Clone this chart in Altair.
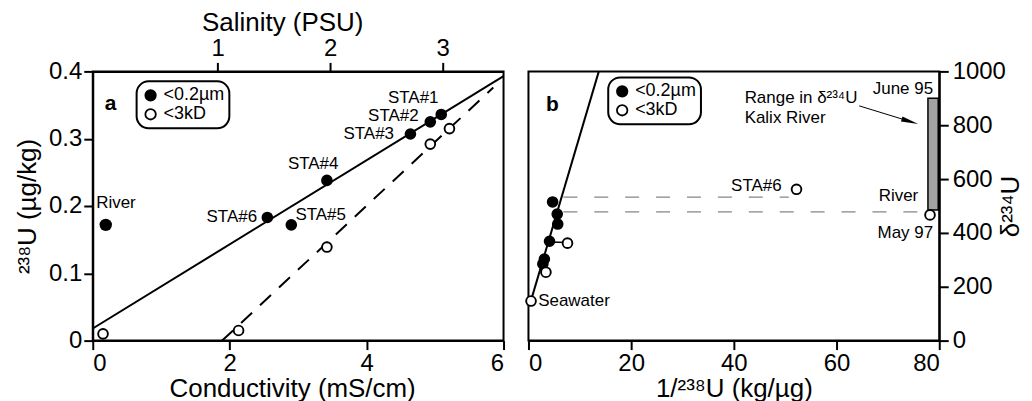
import altair as alt
import pandas as pd

FONT = "Liberation Sans"
KINDS = ["<0.2µm", "<3kD"]

# ---------------- Panel a : 238U vs conductivity ----------------
a_filled_cond = [2.55, 2.90, 3.42, 4.64, 4.93, 5.09]
a_filled_u = [0.183, 0.172, 0.238, 0.307, 0.325, 0.336]
a_open_cond = [0.15, 2.13, 3.42, 4.93, 5.21]
a_open_u = [0.010, 0.015, 0.139, 0.292, 0.315]
a_river_cond = [0.19]
a_river_u = [0.172]
a_solid_cond = [0.0, 6.0]
a_solid_u = [0.018, 0.393]
a_dash_cond = [1.89, 5.85]
a_dash_u = [0.0, 0.376]
salinity_ticks = [1, 2, 3]

a_left_text = ["River", "STA#5"]
a_left_cond = [0.05, 2.96]
a_left_u = [0.204, 0.187]
a_right_text = ["STA#6", "STA#3", "STA#2", "STA#1"]
a_right_cond = [2.40, 4.40, 4.76, 5.05]
a_right_u = [0.183, 0.307, 0.333, 0.361]
a_center_text = ["STA#4"]
a_center_cond = [3.22]
a_center_u = [0.262]

# ---------------- Panel b : d234U vs 1/238U ----------------
b_filled_x = [4.7, 5.6, 5.7, 4.1, 3.1, 2.8]
b_filled_y = [515, 470, 433, 369, 303, 285]
b_open_x = [0.5, 3.4, 7.6, 52.2, 78.2]
b_open_y = [147, 254, 362, 562, 467]
b_solid_x = [0.2, 13.7]
b_solid_y = [130, 1000]
b_tie_x = [4.1, 7.6]
b_tie_y = [366, 364]
b_dash_id = ["sta6", "sta6", "river", "river"]
b_dash_x = [6.8, 50.7, 6.8, 77.0]
b_dash_y = [533, 533, 478, 478]
b_range_x = [77.8]
b_range_x2 = [79.8]
b_range_y = [485]
b_range_y2 = [900]
b_arrow_x = [64.4, 74.3]
b_arrow_y = [872, 814]

b_left_text = ["Seawater", "Range in δ²³⁴U", "Kalix River"]
b_left_x = [1.9, 42.1, 42.1]
b_left_y = [146, 901, 828]
b_right_text = ["STA#6", "River", "May 97", "June 95"]
b_right_x = [49.3, 75.9, 78.8, 78.8]
b_right_y = [573, 536, 398, 934]


def df(**cols):
    return pd.DataFrame(cols)


def fill_enc(lx, ly):
    return alt.Fill(
        "kind:N",
        scale=alt.Scale(domain=KINDS, range=["black", "white"]),
        legend=alt.Legend(title=None, orient="none", legendX=lx, legendY=ly),
    )


# ---- panel a encodings
ax = alt.X(
    "x:Q",
    scale=alt.Scale(domain=[0, 6], nice=False),
    axis=alt.Axis(values=[0, 2, 4, 6], format="d", title="Conductivity (mS/cm)",
                  titlePadding=0, titleX=200),
)
ay = alt.Y(
    "y:Q",
    scale=alt.Scale(domain=[0, 0.4], nice=False),
    axis=alt.Axis(values=[0, 0.1, 0.2, 0.3, 0.4],
                  labelExpr="datum.value == 0 ? '0' : format(datum.value, '.1f')",
                  title="²³⁸U (µg/kg)", titlePadding=8),
)

a_pts = pd.concat([
    df(x=a_filled_cond, y=a_filled_u, kind=[KINDS[0]] * len(a_filled_cond)),
    df(x=a_open_cond, y=a_open_u, kind=[KINDS[1]] * len(a_open_cond)),
])

a_solid = alt.Chart(df(x=a_solid_cond, y=a_solid_u)).mark_line(
    color="black", strokeWidth=2).encode(x=ax, y=ay)
a_dash = alt.Chart(df(x=a_dash_cond, y=a_dash_u)).mark_line(
    color="black", strokeWidth=2, strokeDash=[15, 11]).encode(x=ax, y=ay)
a_points = alt.Chart(a_pts).mark_circle(
    size=95, opacity=1, stroke="black", strokeWidth=1.9).encode(
    x=ax, y=ay, fill=fill_enc(44, 10))
a_river = alt.Chart(df(x=a_river_cond, y=a_river_u)).mark_circle(
    size=155, opacity=1, color="black").encode(x=ax, y=ay)


def texts(xs, ys, ts, align, size=17, weight="normal"):
    return alt.Chart(df(x=xs, y=ys, t=ts)).mark_text(
        font=FONT, fontSize=size, fontWeight=weight, align=align,
        baseline="middle", color="black")


a_tl = texts(a_left_cond, a_left_u, a_left_text, "left").encode(x=ax, y=ay, text="t:N")
a_tr = texts(a_right_cond, a_right_u, a_right_text, "right").encode(x=ax, y=ay, text="t:N")
a_tc = texts(a_center_cond, a_center_u, a_center_text, "center").encode(x=ax, y=ay, text="t:N")
a_letter = texts([0.26], [0.352], ["a"], "center", 21, "bold").encode(x=ax, y=ay, text="t:N")

a_inner = alt.layer(a_solid, a_dash, a_points, a_river, a_tl, a_tr, a_tc, a_letter)

a_sal = alt.Chart(df(s=salinity_ticks)).mark_point(opacity=0).encode(
    x=alt.X("s:Q", scale=alt.Scale(domain=[-0.11, 3.54], nice=False),
            axis=alt.Axis(orient="top", values=salinity_ticks, format="d",
                          title="Salinity (PSU)", titlePadding=1, titleX=190)))

panel_a = alt.layer(a_inner, a_sal).resolve_scale(x="independent").properties(
    width=412, height=270)

# ---- panel b encodings
bx = alt.X(
    "x:Q",
    scale=alt.Scale(domain=[0, 80], nice=False),
    axis=alt.Axis(values=[0, 20, 40, 60, 80], format="d", title="1/²³⁸U  (kg/µg)",
                  titlePadding=0),
)
by = alt.Y(
    "y:Q",
    scale=alt.Scale(domain=[0, 1000], nice=False),
    axis=alt.Axis(orient="right", values=[0, 200, 400, 600, 800, 1000], format="d",
                  title="δ²³⁴U", titleAngle=270, titleBaseline="top", titleX=58,
                  labelPadding=4),
)

b_pts = pd.concat([
    df(x=b_filled_x, y=b_filled_y, kind=[KINDS[0]] * len(b_filled_x)),
    df(x=b_open_x, y=b_open_y, kind=[KINDS[1]] * len(b_open_x)),
])

b_bar = alt.Chart(df(x=b_range_x, x2=b_range_x2, y=b_range_y, y2=b_range_y2)).mark_rect(
    fill="#a3a3a3", stroke="black", strokeWidth=1.5).encode(
    x=bx, x2="x2:Q", y=by, y2="y2:Q")
b_dash = alt.Chart(df(x=b_dash_x, y=b_dash_y, id=b_dash_id)).mark_line(
    color="#666666", strokeWidth=1, strokeDash=[14, 17]).encode(x=bx, y=by, detail="id:N")
b_solid = alt.Chart(df(x=b_solid_x, y=b_solid_y)).mark_line(
    color="black", strokeWidth=2).encode(x=bx, y=by)
b_tie = alt.Chart(df(x=b_tie_x, y=b_tie_y)).mark_line(
    color="black", strokeWidth=1.5).encode(x=bx, y=by)
b_points = alt.Chart(b_pts).mark_circle(
    size=95, opacity=1, stroke="black", strokeWidth=1.9).encode(
    x=bx, y=by, fill=fill_enc(80, 6))
b_arrow_line = alt.Chart(df(x=b_arrow_x, y=b_arrow_y)).mark_line(
    color="black", strokeWidth=1).encode(x=bx, y=by)
b_arrow_head = alt.Chart(df(x=b_arrow_x[1:], y=b_arrow_y[1:])).mark_point(
    shape="M-1,-0.3L1,0L-1,0.3Z", size=300, angle=17, filled=True,
    color="black", opacity=1).encode(x=bx, y=by)

b_tl = texts(b_left_x, b_left_y, b_left_text, "left").encode(x=bx, y=by, text="t:N")
b_tr = texts(b_right_x, b_right_y, b_right_text, "right").encode(x=bx, y=by, text="t:N")
b_letter = texts([4.66], [876], ["b"], "center", 21, "bold").encode(x=bx, y=by, text="t:N")

panel_b = alt.layer(b_bar, b_dash, b_solid, b_tie, b_points, b_arrow_line,
                    b_arrow_head, b_tl, b_tr, b_letter).properties(width=412, height=270)

chart = alt.hconcat(panel_a, panel_b, spacing=12).resolve_scale(
    fill="independent").resolve_legend(fill="independent").properties(
    padding={"left": 5, "top": 0, "right": 0, "bottom": 0},
    background="white",
).configure_view(
    stroke="black", strokeWidth=2
).configure_axis(
    domainColor="black", domainWidth=2, tickColor="black", tickWidth=2, tickSize=9,
    labelFont=FONT, labelFontSize=24, labelColor="black", labelPadding=2,
    titleFont=FONT, titleFontSize=26, titleFontWeight="normal", titleColor="black",
    grid=False,
).configure_legend(
    strokeColor="black", strokeWidth=2, cornerRadius=12, padding=5,
    labelFont=FONT, labelFontSize=18, labelColor="black", labelOffset=4,
    symbolType="circle", symbolSize=110, symbolStrokeColor="black",
    symbolStrokeWidth=1.8, rowPadding=1,
)

chart.save("out.html", embed_options={"renderer": "svg", "actions": False})
